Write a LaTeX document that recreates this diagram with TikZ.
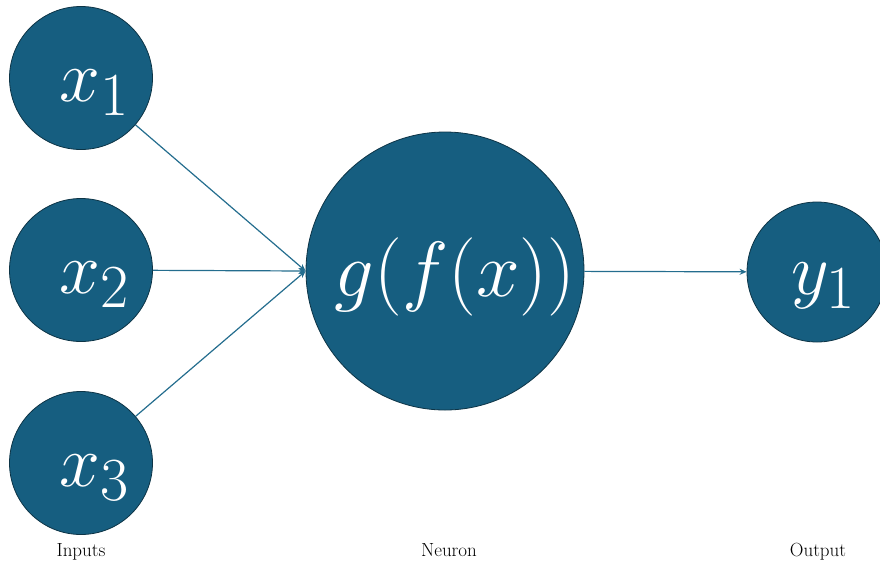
\documentclass[tikz,border=0pt]{standalone}
\usetikzlibrary{arrows.meta}
\definecolor{nodeblue}{HTML}{165E80}
\definecolor{nodeedge}{HTML}{0D3446}
\definecolor{linkblue}{HTML}{246D8E}
\newcommand{\bigmath}[2][2.95]{\scalebox{#1}{\Huge$#2$}}
\begin{document}
\begin{tikzpicture}[x=1pt, y=-1pt, >={Stealth[length=7pt,width=6pt]},
  unit/.style={circle, fill=nodeblue, draw=nodeedge, line width=0.8pt, inner sep=0pt},
  unittext/.style={text=white, inner sep=0pt},
  link/.style={->, draw=linkblue, line width=1.2pt},
  caption/.style={anchor=base, font=\fontsize{19}{19}\selectfont}]

  % --- 1. 描画範囲 ---
  \useasboundingbox (0,0) rectangle (880,563);

  % --- 2. 入力・ニューロン・出力の円 ---
  \node[unit, minimum size=143pt,
    label={[unittext, xshift=14pt, yshift=-15pt]center:\bigmath{x_1}}] (x1) at (81,78) {};
  \node[unit, minimum size=143pt,
    label={[unittext, xshift=14pt, yshift=-15pt]center:\bigmath{x_2}}] (x2) at (81,270) {};
  \node[unit, minimum size=143pt,
    label={[unittext, xshift=14pt, yshift=-15pt]center:\bigmath{x_3}}] (x3) at (81,463) {};

  \node[unit, minimum size=278pt,
    label={[unittext, xshift=10pt, yshift=-6pt]center:\bigmath[3.15]{g(f(x))}}] (g) at (445,271) {};

  \node[unit, minimum size=140pt,
    label={[unittext, xshift=7pt, yshift=-14pt]center:\bigmath{y_1}}] (y1) at (817,272) {};

  % --- 3. 矢印 ---
  \draw[link] (x1) -- (g.west);
  \draw[link] (x2) -- (g.west);
  \draw[link] (x3) -- (g.west);
  \draw[link] (g) -- (y1);

  % --- 4. 下のラベル ---
  \node[caption] (inputs) at (81,556) {Inputs};
  \node[caption] (neuron) at (449,556) {Neuron};
  \node[caption] (output) at (818,556) {Output};

\end{tikzpicture}
\end{document}
